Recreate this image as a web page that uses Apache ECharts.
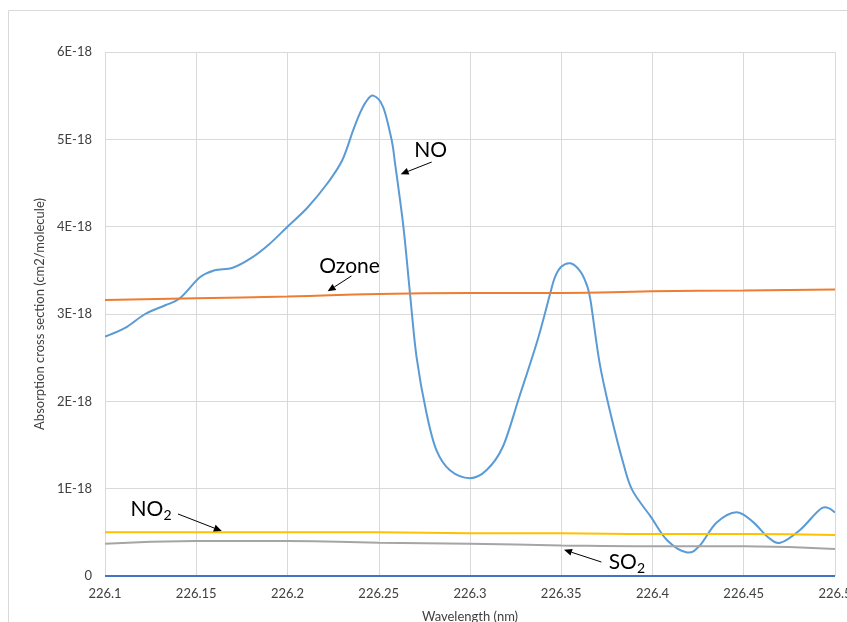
<!DOCTYPE html>
<html>
<head>
<meta charset="utf-8">
<script src="https://cdn.jsdelivr.net/npm/echarts@6/dist/echarts.min.js"></script>
<style>
  html, body { margin: 0; padding: 0; background: #fff; }
  #chart { width: 847px; height: 622px; }
</style>
</head>
<body>
<div id="chart"></div>
<script>
// Cross sections are listed in units of 1E-18 cm2/molecule.
const UNIT = 1e-18;

// NO absorption band
const noWavelength = [
  226.100, 226.111, 226.122, 226.133, 226.141, 226.152, 226.160, 226.170, 226.180,
  226.190, 226.200, 226.211, 226.222, 226.230, 226.2359, 226.2397, 226.243, 226.247, 226.2524,
  226.2571, 226.2589, 226.2635, 226.2671, 226.2707, 226.2762, 226.2816, 226.289, 226.300,
  226.309, 226.318, 226.327, 226.337, 226.344, 226.3465, 226.350, 226.355, 226.360, 226.3635,
  226.366, 226.371, 226.377, 226.384, 226.389, 226.399, 226.408, 226.419, 226.426, 226.435,
  226.446, 226.455, 226.463, 226.470, 226.481, 226.493, 226.500
];
const noCrossSection = [
  2.74, 2.84, 3.00, 3.10, 3.18, 3.42, 3.50, 3.53, 3.64,
  3.80, 4.00, 4.22, 4.50, 4.76, 5.10, 5.30, 5.43, 5.50, 5.37,
  4.99, 4.73, 4.00, 3.24, 2.51, 1.86, 1.44, 1.21, 1.12,
  1.21, 1.48, 2.05, 2.70, 3.24, 3.42, 3.54, 3.58, 3.50, 3.36,
  3.16, 2.44, 1.86, 1.29, 0.98, 0.68, 0.41, 0.27, 0.35, 0.61,
  0.73, 0.62, 0.45, 0.38, 0.53, 0.78, 0.73
];

// Broad-band absorbers sampled every 0.05 nm
const bandWavelength = [226.10, 226.15, 226.20, 226.25, 226.30, 226.35, 226.40, 226.45, 226.50];
const ozoneCrossSection = [3.16, 3.18, 3.20, 3.23, 3.24, 3.24, 3.26, 3.27, 3.28];
const so2CrossSection   = [0.37, 0.40, 0.40, 0.38, 0.37, 0.35, 0.34, 0.34, 0.31];
const no2CrossSection   = [0.50, 0.50, 0.50, 0.50, 0.49, 0.49, 0.48, 0.48, 0.47];
const zeroLine          = [0, 0, 0, 0, 0, 0, 0, 0, 0];

// Axis ticks
const xTicks = { min: 226.1, max: 226.5, step: 0.05 };
const yTicks = { min: 0, max: 6, step: 1 };

const FONT = 'Lato, "Open Sans", sans-serif';

function pairs(xs, ys) {
  return xs.map((x, i) => [x, ys[i] * UNIT]);
}

// Smoothed line drawn as a Catmull-Rom bezier through every data point,
// each point placed with the grid's own coordinate system.
function splineSeries(name, data, color, z) {
  return {
    name: name,
    type: 'custom',
    coordinateSystem: 'cartesian2d',
    data: data,
    z: z,
    silent: true,
    clip: true,
    encode: { x: 0, y: 1 },
    renderItem: function (params, api) {
      if (params.dataIndex !== 0) return null;
      const p = data.map(d => api.coord(d));
      const k = 1 / 6;
      let path = 'M' + p[0][0] + ' ' + p[0][1];
      for (let i = 0; i < p.length - 1; i++) {
        const p0 = p[Math.max(0, i - 1)], p1 = p[i], p2 = p[i + 1], p3 = p[Math.min(p.length - 1, i + 2)];
        const c1 = [p1[0] + (p2[0] - p0[0]) * k, p1[1] + (p2[1] - p0[1]) * k];
        const c2 = [p2[0] - (p3[0] - p1[0]) * k, p2[1] - (p3[1] - p1[1]) * k];
        path += ' C' + c1[0] + ' ' + c1[1] + ' ' + c2[0] + ' ' + c2[1] + ' ' + p2[0] + ' ' + p2[1];
      }
      return {
        type: 'path',
        shape: { pathData: path },
        style: { fill: null, stroke: color, lineWidth: 2, lineJoin: 'round' }
      };
    }
  };
}

function lineSeries(name, data, color, z, smooth) {
  return {
    name: name,
    type: 'line',
    data: data,
    showSymbol: false,
    smooth: smooth,
    z: z,
    lineStyle: { color: color, width: 2 },
    itemStyle: { color: color },
    emphasis: { disabled: true }
  };
}

const chart = echarts.init(document.getElementById('chart'), null, { renderer: 'canvas' });

chart.setOption({
  animation: false,
  backgroundColor: '#ffffff',
  textStyle: { fontFamily: FONT },
  grid: { left: 105, right: 12, top: 52, bottom: 46, containLabel: false, outerBoundsMode: 'none' },
  xAxis: {
    type: 'value',
    min: xTicks.min,
    max: xTicks.max,
    interval: xTicks.step,
    name: 'Wavelength (nm)',
    nameLocation: 'middle',
    nameGap: 34,
    nameTextStyle: { color: '#404040', fontSize: 13, fontFamily: FONT },
    axisLine: { show: false },
    axisTick: { show: false },
    axisLabel: {
      color: '#404040', fontSize: 13, margin: 11, fontFamily: FONT,
      showMinLabel: true, showMaxLabel: true, hideOverlap: false,
      formatter: v => String(Math.round(v * 100) / 100)
    },
    splitLine: { show: true, lineStyle: { color: '#d9d9d9', width: 1 } }
  },
  yAxis: {
    type: 'value',
    min: yTicks.min * UNIT,
    max: yTicks.max * UNIT,
    interval: yTicks.step * UNIT,
    name: 'Absorption cross section (cm2/molecule)',
    nameLocation: 'middle',
    nameGap: 54,
    nameTextStyle: { color: '#404040', fontSize: 13, fontFamily: FONT },
    axisLine: { show: false },
    axisTick: { show: false },
    axisLabel: {
      color: '#404040', fontSize: 13, margin: 13, fontFamily: FONT,
      formatter: v => { const n = Math.round(v / UNIT); return n === 0 ? '0' : n + 'E-18'; }
    },
    splitLine: { show: true, lineStyle: { color: '#d9d9d9', width: 1 } }
  },
  series: [
    splineSeries('NO', pairs(noWavelength, noCrossSection), '#5B9BD5', 2),
    lineSeries('Ozone', pairs(bandWavelength, ozoneCrossSection), '#ED7D31', 3, true),
    lineSeries('SO2', pairs(bandWavelength, so2CrossSection), '#A5A5A5', 3, true),
    lineSeries('NO2', pairs(bandWavelength, no2CrossSection), '#FFC000', 3, true),
    lineSeries('', pairs(bandWavelength, zeroLine), '#4472C4', 4, false)
  ]
});

// Callout labels with arrows, anchored in data coordinates (wavelength, 1E-18 units)
const callouts = [
  { text: 'NO', at: [226.2785, 4.88], align: 'center', from: [226.279, 4.74], to: [226.262, 4.60] },
  { text: 'Ozone', at: [226.234, 3.55], align: 'center', from: [226.235, 3.435], to: [226.222, 3.26] },
  { text: 'NO{sub|2}', at: [226.114, 0.76], align: 'left', from: [226.140, 0.71], to: [226.164, 0.515] },
  { text: 'SO{sub|2}', at: [226.376, 0.16], align: 'left', from: [226.372, 0.16], to: [226.3515, 0.30] }
];

function px(p) {
  return chart.convertToPixel({ gridIndex: 0 }, [p[0], p[1] * UNIT]);
}

function arrow(a, b) {
  const dx = b[0] - a[0], dy = b[1] - a[1];
  const len = Math.hypot(dx, dy);
  const ux = dx / len, uy = dy / len;
  const head = 8, half = 3.5;
  const base = [b[0] - ux * head, b[1] - uy * head];
  return [
    {
      type: 'line', silent: true,
      shape: { x1: a[0], y1: a[1], x2: base[0], y2: base[1] },
      style: { stroke: '#000', lineWidth: 1 }
    },
    {
      type: 'polygon', silent: true,
      shape: { points: [b, [base[0] - uy * half, base[1] + ux * half], [base[0] + uy * half, base[1] - ux * half]] },
      style: { fill: '#000' }
    }
  ];
}

const graphics = [
  {
    type: 'rect', silent: true, z: -1,
    shape: { x: 8.5, y: 10.5, width: 900, height: 700 },
    style: { fill: 'none', stroke: '#d9d9d9', lineWidth: 1 }
  }
];

callouts.forEach(c => {
  const p = px(c.at);
  graphics.push({
    type: 'text', silent: true, z: 10,
    x: p[0], y: p[1],
    style: {
      text: c.text,
      font: '21px ' + FONT,
      fill: '#000',
      align: c.align,
      verticalAlign: 'middle',
      rich: {
        sub: { fontSize: 14, fontFamily: FONT, fill: '#000', padding: [12, 0, 0, 0] }
      }
    }
  });
  arrow(px(c.from), px(c.to)).forEach(g => graphics.push(Object.assign({ z: 10 }, g)));
});

chart.setOption({ graphic: graphics });
</script>
</body>
</html>
